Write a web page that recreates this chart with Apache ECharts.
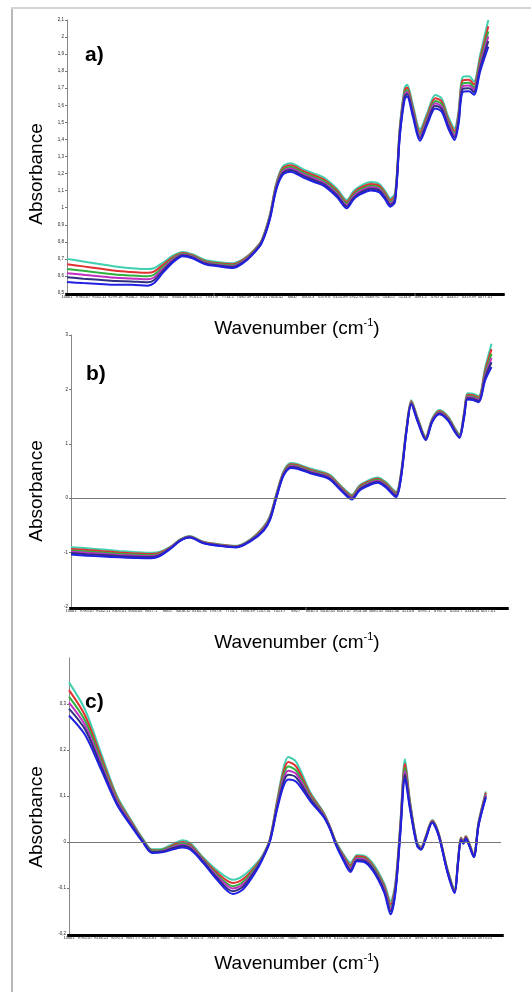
<!DOCTYPE html>
<html>
<head>
<meta charset="utf-8">
<script src="https://cdn.jsdelivr.net/npm/echarts@6/dist/echarts.min.js"></script>
<style>
  html, body { margin: 0; background: #fff; }
  #chart { width: 531px; height: 992px; }
</style>
</head>
<body>
<div id="chart"></div>
<script>
// tick labels (wavenumbers printed under each panel)
const ticksA = ['10001', '9785.07', '9542.11', '9299.16', '9056.2', '8820.67', '8605', '8404.46', '8161.5', '7937.8', '7714.1', '7490.39', '7247.41', '7004.42', '6800', '6603.3', '6379.6', '6155.89', '5912.91', '5669.92', '5430.5', '5214.8', '4991.1', '4767.4', '4543.7', '4319.99', '4077.01'];
const ticksB = ['10001', '9785.07', '9542.11', '9303.01', '9060.06', '8817.1', '8605', '8408.32', '8165.36', '7937.8', '7714.1', '7490.39', '7247.41', '7023.7', '6827', '6630.3', '6410.45', '6167.47', '5924.48', '5685.35', '5442.36', '5214.8', '4991.1', '4767.4', '4543.7', '4316.14', '4077.01'];
const ticksC = ['10001', '9785.07', '9538.25', '9295.3', '9067.77', '8824.81', '8605', '8404.46', '8161.5', '7937.8', '7714.1', '7486.54', '7243.55', '7000.56', '6800', '6603.3', '6379.6', '6152.04', '5909.05', '5666.06', '5430.5', '5214.8', '4991.1', '4767.4', '4543.7', '4316.14', '4073.15'];

// a) raw spectra, x = position along the tick scale
const xA = [0, 1, 2, 3, 4, 5, 5.4, 6, 6.6, 7.2, 7.8, 8.6, 9.5, 10.3, 11, 11.6, 12.1, 12.6, 13, 13.4, 13.9, 14.7, 15.5, 16, 16.8, 17.4, 17.8, 18.2, 18.9, 19.4, 19.8, 20.1, 20.4, 20.7, 21, 21.15, 21.5, 21.95, 22.4, 22.9, 23.3, 23.7, 24.1, 24.35, 24.6, 25, 25.3, 25.7, 26.2];
const specA = [
  [0.70, 0.685, 0.67, 0.655, 0.645, 0.64, 0.645, 0.68, 0.72, 0.741, 0.727, 0.693, 0.68, 0.675, 0.702, 0.75, 0.81, 0.955, 1.14, 1.24, 1.26, 1.225, 1.195, 1.175, 1.11, 1.045, 1.095, 1.125, 1.15, 1.14, 1.095, 1.055, 1.085, 1.48, 1.705, 1.72, 1.605, 1.46, 1.555, 1.66, 1.64, 1.535, 1.465, 1.57, 1.765, 1.77, 1.74, 1.90, 2.10],
  [0.668, 0.656, 0.643, 0.630, 0.623, 0.618, 0.625, 0.667, 0.711, 0.735, 0.722, 0.687, 0.674, 0.668, 0.697, 0.746, 0.806, 0.948, 1.131, 1.229, 1.249, 1.214, 1.184, 1.164, 1.099, 1.034, 1.084, 1.114, 1.139, 1.129, 1.084, 1.044, 1.074, 1.467, 1.689, 1.704, 1.589, 1.444, 1.539, 1.642, 1.622, 1.519, 1.449, 1.552, 1.745, 1.75, 1.722, 1.878, 2.064],
  [0.641, 0.630, 0.619, 0.608, 0.603, 0.598, 0.607, 0.655, 0.703, 0.730, 0.717, 0.682, 0.669, 0.662, 0.692, 0.742, 0.802, 0.942, 1.123, 1.219, 1.239, 1.204, 1.174, 1.154, 1.089, 1.024, 1.074, 1.104, 1.129, 1.119, 1.074, 1.034, 1.064, 1.455, 1.675, 1.69, 1.575, 1.43, 1.525, 1.626, 1.606, 1.505, 1.435, 1.536, 1.727, 1.732, 1.706, 1.858, 2.032],
  [0.616, 0.607, 0.598, 0.589, 0.585, 0.58, 0.591, 0.644, 0.696, 0.725, 0.713, 0.677, 0.664, 0.657, 0.688, 0.738, 0.798, 0.937, 1.116, 1.21, 1.23, 1.195, 1.165, 1.145, 1.08, 1.015, 1.065, 1.095, 1.12, 1.11, 1.065, 1.025, 1.055, 1.444, 1.663, 1.678, 1.563, 1.418, 1.513, 1.612, 1.592, 1.493, 1.423, 1.522, 1.711, 1.716, 1.692, 1.84, 2.004],
  [0.592, 0.584, 0.577, 0.57, 0.568, 0.563, 0.575, 0.634, 0.689, 0.721, 0.708, 0.673, 0.66, 0.652, 0.683, 0.735, 0.795, 0.932, 1.109, 1.201, 1.221, 1.186, 1.156, 1.136, 1.071, 1.006, 1.056, 1.086, 1.111, 1.101, 1.056, 1.016, 1.046, 1.434, 1.651, 1.666, 1.551, 1.406, 1.501, 1.598, 1.578, 1.481, 1.411, 1.508, 1.695, 1.70, 1.678, 1.823, 1.976],
  [0.564, 0.558, 0.553, 0.548, 0.548, 0.543, 0.557, 0.622, 0.681, 0.716, 0.704, 0.668, 0.655, 0.646, 0.679, 0.731, 0.791, 0.926, 1.101, 1.191, 1.211, 1.176, 1.146, 1.126, 1.061, 0.996, 1.046, 1.076, 1.101, 1.091, 1.046, 1.006, 1.036, 1.422, 1.637, 1.652, 1.537, 1.392, 1.487, 1.582, 1.562, 1.467, 1.397, 1.492, 1.677, 1.682, 1.662, 1.802, 1.944]
];

// b) pretreated spectra
const xB = [0, 1, 2, 3, 4, 5, 5.5, 6.2, 6.8, 7.4, 8.2, 9.3, 10.3, 11.2, 12, 12.4, 12.8, 13.25, 13.7, 14.1, 14.9, 15.8, 16.2, 16.8, 17.5, 17.95, 18.4, 19.1, 19.6, 20.25, 20.55, 20.9, 21.2, 21.6, 22.1, 22.5, 22.96, 23.5, 23.9, 24.2, 24.5, 24.7, 25.05, 25.4, 25.8, 26.2];
const specB = [
  [-0.90, -0.92, -0.945, -0.97, -0.99, -1.005, -0.99, -0.89, -0.755, -0.695, -0.795, -0.85, -0.875, -0.75, -0.52, -0.32, 0.09, 0.50, 0.645, 0.63, 0.545, 0.475, 0.415, 0.235, 0.065, 0.23, 0.31, 0.38, 0.30, 0.12, 0.45, 1.30, 1.80, 1.48, 1.135, 1.465, 1.62, 1.50, 1.30, 1.175, 1.60, 1.93, 1.92, 1.88, 2.40, 2.84],
  [-0.932, -0.952, -0.974, -0.997, -1.015, -1.028, -1.008, -0.899, -0.762, -0.702, -0.802, -0.857, -0.882, -0.759, -0.538, -0.338, 0.072, 0.482, 0.625, 0.61, 0.525, 0.455, 0.395, 0.215, 0.045, 0.208, 0.288, 0.358, 0.278, 0.098, 0.428, 1.282, 1.782, 1.462, 1.119, 1.449, 1.602, 1.482, 1.282, 1.159, 1.578, 1.903, 1.893, 1.853, 2.346, 2.741],
  [-0.96, -0.979, -1.0, -1.021, -1.037, -1.048, -1.024, -0.907, -0.768, -0.708, -0.808, -0.863, -0.888, -0.767, -0.554, -0.354, 0.056, 0.466, 0.607, 0.592, 0.507, 0.437, 0.377, 0.197, 0.027, 0.188, 0.268, 0.338, 0.258, 0.078, 0.408, 1.266, 1.766, 1.446, 1.105, 1.435, 1.586, 1.466, 1.266, 1.145, 1.558, 1.879, 1.869, 1.829, 2.298, 2.653],
  [-0.984, -1.004, -1.023, -1.042, -1.056, -1.065, -1.038, -0.914, -0.773, -0.713, -0.813, -0.868, -0.893, -0.774, -0.568, -0.368, 0.042, 0.452, 0.591, 0.576, 0.491, 0.421, 0.361, 0.181, 0.011, 0.17, 0.25, 0.32, 0.24, 0.06, 0.39, 1.252, 1.752, 1.432, 1.093, 1.423, 1.572, 1.452, 1.252, 1.133, 1.54, 1.858, 1.848, 1.808, 2.256, 2.576],
  [-1.009, -1.029, -1.046, -1.063, -1.075, -1.083, -1.052, -0.921, -0.778, -0.718, -0.818, -0.873, -0.898, -0.781, -0.582, -0.382, 0.028, 0.438, 0.575, 0.56, 0.475, 0.405, 0.345, 0.165, -0.005, 0.153, 0.233, 0.303, 0.223, 0.043, 0.373, 1.238, 1.738, 1.418, 1.081, 1.411, 1.558, 1.438, 1.238, 1.121, 1.523, 1.837, 1.827, 1.787, 2.214, 2.499],
  [-1.037, -1.057, -1.072, -1.087, -1.097, -1.103, -1.068, -0.929, -0.784, -0.724, -0.824, -0.879, -0.904, -0.789, -0.598, -0.398, 0.012, 0.422, 0.557, 0.542, 0.457, 0.387, 0.327, 0.147, -0.023, 0.133, 0.213, 0.283, 0.203, 0.023, 0.353, 1.222, 1.722, 1.402, 1.067, 1.397, 1.542, 1.422, 1.222, 1.107, 1.503, 1.813, 1.803, 1.763, 2.166, 2.411]
];

// c) derivative-like spectra
const xC = [0, 1, 2, 3, 4, 4.6, 5.2, 5.9, 6.5, 7.1, 7.6, 8.4, 9.2, 10.25, 10.9, 11.7, 12.1, 12.55, 13, 13.4, 13.7, 14.2, 15.1, 15.9, 16.3, 16.7, 17.15, 17.6, 18, 18.4, 19, 19.7, 20.1, 20.4, 20.7, 21, 21.3, 21.75, 22, 22.3, 22.7, 23.1, 23.65, 24.1, 24.3, 24.5, 24.65, 24.8, 25, 25.3, 25.6, 26.05];
const specC = [
  [0.347, 0.288, 0.193, 0.10, 0.041, 0.008, -0.016, -0.014, -0.004, 0.004, -0.003, -0.034, -0.06, -0.082, -0.073, -0.047, -0.029, 0.006, 0.09, 0.16, 0.185, 0.174, 0.107, 0.065, 0.035, 0.0, -0.026, -0.045, -0.028, -0.029, -0.047, -0.09, -0.128, -0.088, 0.037, 0.18, 0.093, 0.0, -0.011, 0.013, 0.048, 0.02, -0.058, -0.101, -0.044, 0.01, 0.002, 0.013, -0.001, -0.027, 0.044, 0.11],
  [0.33, 0.275, 0.185, 0.096, 0.038, 0.006, -0.018, -0.016, -0.007, 0.0, -0.006, -0.037, -0.065, -0.089, -0.08, -0.051, -0.031, 0.005, 0.086, 0.151, 0.174, 0.164, 0.103, 0.063, 0.034, -0.002, -0.029, -0.05, -0.031, -0.032, -0.051, -0.095, -0.135, -0.093, 0.032, 0.17, 0.089, -0.002, -0.012, 0.012, 0.047, 0.019, -0.06, -0.103, -0.046, 0.009, 0.001, 0.012, -0.002, -0.028, 0.042, 0.107],
  [0.316, 0.264, 0.178, 0.092, 0.036, 0.005, -0.019, -0.017, -0.009, -0.003, -0.009, -0.039, -0.069, -0.096, -0.086, -0.054, -0.032, 0.003, 0.082, 0.143, 0.164, 0.155, 0.099, 0.061, 0.032, -0.003, -0.032, -0.054, -0.034, -0.035, -0.054, -0.099, -0.141, -0.098, 0.027, 0.161, 0.085, -0.003, -0.014, 0.01, 0.045, 0.017, -0.061, -0.105, -0.047, 0.007, -0.001, 0.01, -0.004, -0.03, 0.041, 0.104],
  [0.303, 0.254, 0.171, 0.088, 0.034, 0.003, -0.021, -0.019, -0.011, -0.006, -0.011, -0.041, -0.072, -0.101, -0.091, -0.057, -0.034, 0.002, 0.078, 0.136, 0.155, 0.148, 0.095, 0.059, 0.031, -0.005, -0.034, -0.057, -0.036, -0.037, -0.057, -0.102, -0.146, -0.102, 0.023, 0.154, 0.081, -0.005, -0.015, 0.009, 0.044, 0.016, -0.063, -0.107, -0.049, 0.006, -0.002, 0.009, -0.005, -0.031, 0.039, 0.102],
  [0.29, 0.245, 0.165, 0.084, 0.032, 0.002, -0.022, -0.02, -0.013, -0.008, -0.014, -0.043, -0.076, -0.107, -0.096, -0.059, -0.035, 0.001, 0.074, 0.129, 0.146, 0.14, 0.092, 0.057, 0.03, -0.006, -0.037, -0.061, -0.039, -0.04, -0.059, -0.106, -0.151, -0.107, 0.018, 0.146, 0.078, -0.006, -0.016, 0.008, 0.043, 0.015, -0.064, -0.109, -0.05, 0.005, -0.003, 0.008, -0.006, -0.032, 0.038, 0.099],
  [0.275, 0.233, 0.158, 0.081, 0.029, 0.0, -0.024, -0.022, -0.016, -0.012, -0.017, -0.046, -0.08, -0.113, -0.102, -0.063, -0.037, 0.0, 0.07, 0.121, 0.136, 0.131, 0.088, 0.055, 0.029, -0.008, -0.04, -0.065, -0.042, -0.043, -0.063, -0.11, -0.157, -0.111, 0.014, 0.137, 0.074, -0.008, -0.017, 0.007, 0.042, 0.014, -0.066, -0.111, -0.052, 0.004, -0.004, 0.007, -0.007, -0.033, 0.036, 0.096]
];

const lineColors = ['#40d0b0', '#e03030', '#30b040', '#c030c0', '#303080', '#2020e0'];
const FONT = '"Liberation Sans", Arial, sans-serif';

// one entry per stacked panel
const panels = [
  { left: 67, top: 20, width: 435, height: 273, xMax: 27.05, yMin: 0.5, yMax: 2.1, yStep: 0.1, ticks: ticksA, x: xA, spec: specA, zero: false },
  { left: 71, top: 335, width: 435, height: 272, xMax: 27.1, yMin: -2, yMax: 3, yStep: 1, ticks: ticksB, x: xB, spec: specB, zero: true },
  { left: 69, top: 658, width: 432, height: 276, xMax: 27.0, yMin: -0.2, yMax: 0.4, yStep: 0.1, ticks: ticksC, x: xC, spec: specC, zero: true, hideTop: true }
];

const yFmt = v => String(Math.round(v * 10) / 10).replace('.', ',');

const chart = echarts.init(document.getElementById('chart'));

const series = [];
panels.forEach((p, pi) => {
  p.spec.forEach((vals, si) => {
    const s = {
      type: 'line',
      xAxisIndex: pi,
      yAxisIndex: pi,
      data: p.x.map((x, j) => [x, vals[j]]),
      showSymbol: false,
      smooth: 0.3,
      lineStyle: { width: 2, color: lineColors[si] },
      silent: true
    };
    if (si === 0 && p.zero) {
      s.markLine = {
        silent: true,
        symbol: 'none',
        label: { show: false },
        lineStyle: { color: '#777', width: 1, type: 'solid' },
        data: [{ yAxis: 0 }]
      };
    }
    series.push(s);
  });
});

const option = {
  animation: false,
  backgroundColor: '#fff',
  grid: panels.map(p => ({ left: p.left, top: p.top, width: p.width, height: p.height })),
  xAxis: panels.map((p, i) => ({
    type: 'value',
    gridIndex: i,
    position: 'bottom',
    min: 0,
    max: p.xMax,
    interval: 1,
    axisLine: { show: true, onZero: false, lineStyle: { color: '#888', width: 1 } },
    // dense ticks make the solid black band under the data
    axisTick: { show: true, length: 3, lineStyle: { color: '#000', width: 4.5 } },
    minorTick: { show: true, splitNumber: 4, length: 3, lineStyle: { color: '#000', width: 4.5 } },
    splitLine: { show: false },
    axisLabel: {
      fontSize: 4,
      fontFamily: FONT,
      color: '#222',
      margin: 2,
      formatter: v => {
        const k = Math.round(v);
        return Math.abs(v - k) < 1e-6 ? (p.ticks[k] || '') : '';
      }
    }
  })),
  yAxis: panels.map((p, i) => ({
    type: 'value',
    gridIndex: i,
    min: p.yMin,
    max: p.yMax,
    interval: p.yStep,
    axisLine: { show: true, onZero: false, lineStyle: { color: '#888', width: 1 } },
    axisTick: { show: true, length: 2, lineStyle: { color: '#777' } },
    splitLine: { show: false },
    axisLabel: {
      fontSize: 4.5,
      fontFamily: FONT,
      color: '#222',
      margin: 3,
      showMaxLabel: !p.hideTop,
      formatter: yFmt
    }
  })),
  series: series,
  graphic: [
    // page frame
    { type: 'line', shape: { x1: 12, y1: 8, x2: 12, y2: 992 }, style: { stroke: '#b8b8b8', lineWidth: 2 } },
    { type: 'line', shape: { x1: 11, y1: 8, x2: 531, y2: 8 }, style: { stroke: '#d4d4d4', lineWidth: 2 } },
    // panel letters
    { type: 'text', x: 85, y: 55, style: { text: 'a)', fontSize: 21, fontWeight: 'bold', fontFamily: FONT, fill: '#000', align: 'left', verticalAlign: 'middle' } },
    { type: 'text', x: 86, y: 374, style: { text: 'b)', fontSize: 21, fontWeight: 'bold', fontFamily: FONT, fill: '#000', align: 'left', verticalAlign: 'middle' } },
    { type: 'text', x: 85, y: 702, style: { text: 'c)', fontSize: 21, fontWeight: 'bold', fontFamily: FONT, fill: '#000', align: 'left', verticalAlign: 'middle' } }
  ].concat([174, 491, 817].map(y => ({
    type: 'text', x: 37, y: y, rotation: Math.PI / 2,
    style: { text: 'Absorbance', fontSize: 19, fontFamily: FONT, fill: '#000', align: 'center', verticalAlign: 'middle' }
  }))).concat([329, 643, 964].map(y => ({
    type: 'text', x: 297, y: y,
    style: {
      text: '{m|Wavenumber (cm}{s|-1}{m|)}',
      align: 'center',
      verticalAlign: 'middle',
      rich: {
        m: { fontSize: 19, fontFamily: FONT, fill: '#000', lineHeight: 24 },
        s: { fontSize: 11, fontFamily: FONT, fill: '#000', verticalAlign: 'top' }
      }
    }
  })))
};

chart.setOption(option);
</script>
</body>
</html>
